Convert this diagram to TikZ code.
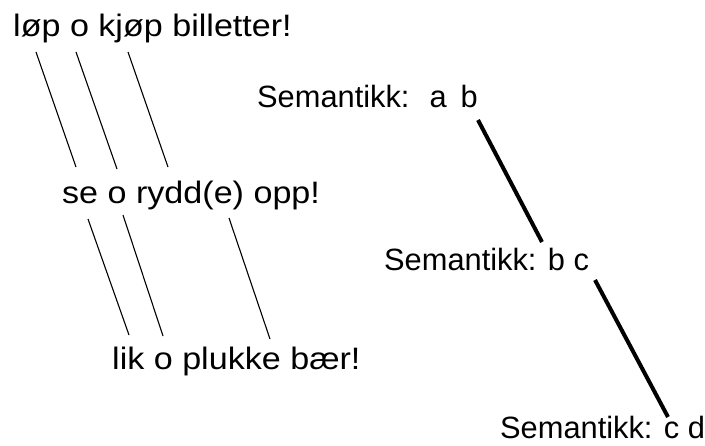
\documentclass[tikz,border=0pt]{standalone}
\usepackage{fontspec}
\setmainfont{Liberation Sans}
\newcommand{\wtxt}[1]{\scalebox{1.1}[1]{#1}}
\begin{document}
\begin{tikzpicture}[x=1pt,y=-1pt,
  lbl/.style={anchor=base west,inner sep=0pt,font=\fontsize{31}{36}\selectfont},
  sem/.style={anchor=base west,inner sep=0pt,font=\fontsize{30.8}{36}\selectfont},
  thin/.style={line width=1.1pt},
  thick/.style={line width=4pt}]
\useasboundingbox (0,0) rectangle (705,445);
\node[lbl] (t1) at (13,36) {\wtxt{løp o kjøp billetter!}};
\node[lbl] (t2) at (62,203) {\wtxt{se o rydd(e) opp!}};
\node[lbl] (t3) at (112,369) {\wtxt{lik o plukke bær!}};
\node[sem] (s1) at (257,107) {Semantikk:\hspace{20pt}a\hspace{14pt}b};
\node[sem] (s2) at (384,270) {Semantikk: b c};
\node[sem] (s3) at (500,438) {Semantikk: c d};
\coordinate (a1) at (36,52); \coordinate (b1) at (76,167);
\coordinate (a2) at (76,52); \coordinate (b2) at (117,169);
\coordinate (a3) at (128,52); \coordinate (b3) at (168,167);
\coordinate (c1) at (88,219); \coordinate (d1) at (129,335);
\coordinate (c2) at (123,215); \coordinate (d2) at (163,336);
\coordinate (c3) at (229,218); \coordinate (d3) at (270,339);
\coordinate (e1) at (478,120); \coordinate (f1) at (542,242);
\coordinate (e2) at (595,280); \coordinate (f2) at (668,417);
\draw[thin] (a1) -- (b1);
\draw[thin] (a2) -- (b2);
\draw[thin] (a3) -- (b3);
\draw[thin] (c1) -- (d1);
\draw[thin] (c2) -- (d2);
\draw[thin] (c3) -- (d3);
\draw[thick] (e1) -- (f1);
\draw[thick] (e2) -- (f2);
\end{tikzpicture}
\end{document}
